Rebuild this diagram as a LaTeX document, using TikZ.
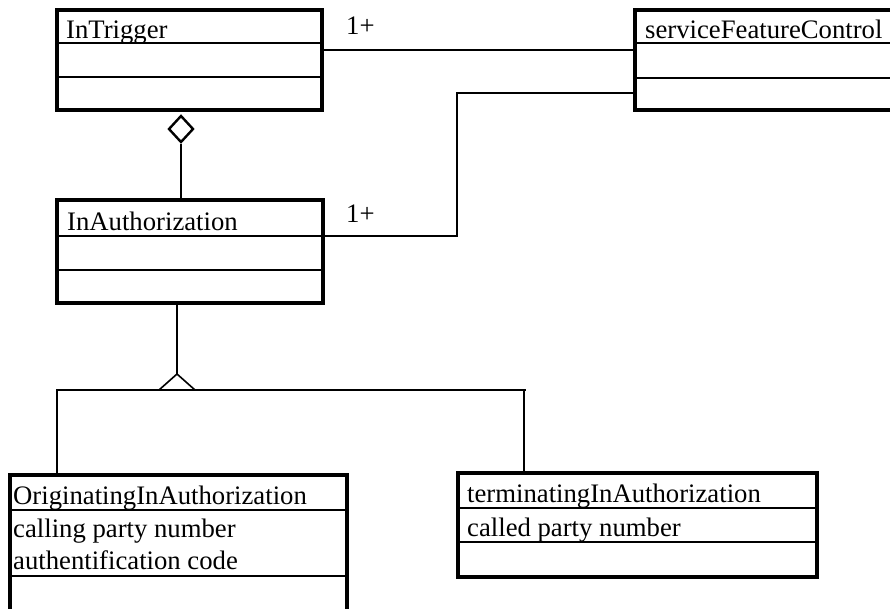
\documentclass[tikz,border=0pt]{standalone}
\usepackage{fontspec}
\setmainfont{Liberation Serif}
\usetikzlibrary{shapes.geometric}
\begin{document}
\begin{tikzpicture}[x=1pt,y=-1pt,
  cls/.style={draw, line width=4.5pt, anchor=north west, inner sep=0pt, outer sep=0pt},
  div/.style={line width=2pt},
  conn/.style={line width=1.6pt},
  txt/.style={anchor=base west, inner sep=0pt, font=\fontsize{26.7}{30}\selectfont},
  agg/.style={draw, diamond, line width=2.4pt, inner sep=0pt, minimum width=25pt, minimum height=27pt}
]
\useasboundingbox (0,0) rectangle (890,608);
% classes
\node[cls, minimum width=265pt, minimum height=100pt] (trig) at (57,10) {};
\node[cls, minimum width=280pt, minimum height=100pt] (sfc) at (635,10) {};
\node[cls, minimum width=266pt, minimum height=103pt] (auth) at (57,200) {};
\node[cls, minimum width=337pt, minimum height=160pt] (orig) at (10,475) {};
\node[cls, minimum width=359pt, minimum height=104pt] (term) at (458,473) {};
% dividers
\draw[div] (trig.west |- 0,43) -- (trig.east |- 0,43);
\draw[div] (trig.west |- 0,77) -- (trig.east |- 0,77);
\draw[div] (sfc.west |- 0,43) -- (sfc.east |- 0,43);
\draw[div] (sfc.west |- 0,78) -- (sfc.east |- 0,78);
\draw[div] (auth.west |- 0,236) -- (auth.east |- 0,236);
\draw[div] (auth.west |- 0,270) -- (auth.east |- 0,270);
\draw[div] (orig.west |- 0,510) -- (orig.east |- 0,510);
\draw[div] (orig.west |- 0,576) -- (orig.east |- 0,576);
\draw[div] (term.west |- 0,508) -- (term.east |- 0,508);
\draw[div] (term.west |- 0,542) -- (term.east |- 0,542);
% texts
\node[txt] (t1) at (66,38) {InTrigger};
\node[txt] (t2) at (645,38) {serviceFeatureControl};
\node[txt] (t3) at (67,230) {InAuthorization};
\node[txt] (t4) at (13,504) {OriginatingInAuthorization};
\node[txt] (t5) at (13,537) {calling party number};
\node[txt] (t6) at (13,569) {authentification code};
\node[txt] (t7) at (467,502) {terminatingInAuthorization};
\node[txt] (t8) at (467,536) {called party number};
\node[txt] (m1) at (346,34) {1+};
\node[txt] (m2) at (346,222) {1+};
% associations
\draw[conn] (trig.east |- 0,50) -- (sfc.west |- 0,50);
\draw[conn] (sfc.west |- 0,93) -- (457,93) -- (457,236) -- (auth.east |- 0,236);
% aggregation
\node[agg] (dia) at (181,129) {};
\draw[conn] (dia.south) -- (dia.south |- auth.north);
% generalization
\coordinate (apex) at (177,374);
\draw[conn] (apex |- auth.south) -- (apex);
\draw[conn] (159,390) -- (apex) -- (195,390);
\draw[conn] (56,390) -- (526,390);
\coordinate (gl) at (57,390);
\coordinate (gr) at (524,390);
\draw[conn] (gl) -- (gl |- orig.north);
\draw[conn] (gr) -- (gr |- term.north);
\end{tikzpicture}
\end{document}
